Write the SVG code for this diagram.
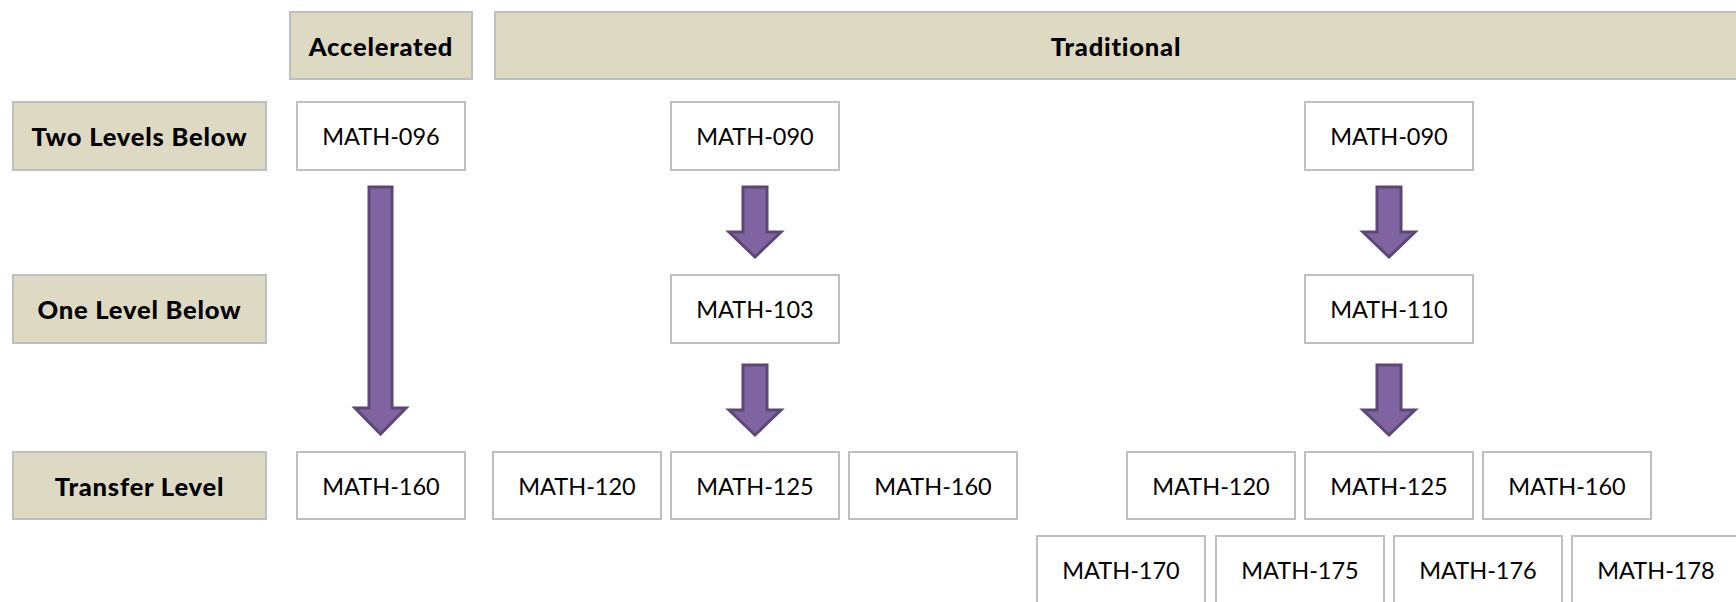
<svg xmlns="http://www.w3.org/2000/svg" width="1736" height="602" viewBox="0 0 1736 602">
<style>
.hdr{fill:#DDD9C3;stroke:#BFBFBF;stroke-width:2}
.box{fill:#FFFFFF;stroke:#BFBFBF;stroke-width:2}
.ht{font-family:Lato,"Liberation Sans",sans-serif;font-weight:900;font-size:25.5px;letter-spacing:0.8px;fill:#000;text-anchor:middle;dominant-baseline:central}
.bt{font-family:Lato,"Liberation Sans",sans-serif;font-size:23.5px;fill:#000;text-anchor:middle;dominant-baseline:central}
.arr{fill:#8064A2;stroke:#5C4776;stroke-width:3;stroke-linejoin:miter}
</style>
<rect width="1736" height="602" fill="#FFFFFF"/>
<g id="hdr-accelerated"><rect class="hdr" x="290" y="12" width="182" height="67"/><text class="ht" x="381" y="45.5">Accelerated</text></g>
<g id="hdr-traditional"><rect class="hdr" x="495" y="12" width="1245" height="67"/><text class="ht" x="1116" y="45.5">Traditional</text></g>
<g id="lbl-two"><rect class="hdr" x="13" y="102" width="253" height="68"/><text class="ht" x="139.5" y="136">Two Levels Below</text></g>
<g id="lbl-one"><rect class="hdr" x="13" y="275" width="253" height="68"/><text class="ht" x="139.5" y="309">One Level Below</text></g>
<g id="lbl-transfer"><rect class="hdr" x="13" y="452" width="253" height="67"/><text class="ht" x="139.5" y="485.5">Transfer Level</text></g>

<g id="acc-096"><rect class="box" x="297" y="102" width="168" height="68"/><text class="bt" x="381" y="136">MATH-096</text></g>
<g id="acc-160"><rect class="box" x="297" y="452" width="168" height="67"/><text class="bt" x="381" y="485.5">MATH-160</text></g>

<g id="t1-090"><rect class="box" x="671" y="102" width="168" height="68"/><text class="bt" x="755" y="136">MATH-090</text></g>
<g id="t1-103"><rect class="box" x="671" y="275" width="168" height="68"/><text class="bt" x="755" y="309">MATH-103</text></g>
<g id="t1-120"><rect class="box" x="493" y="452" width="168" height="67"/><text class="bt" x="577" y="485.5">MATH-120</text></g>
<g id="t1-125"><rect class="box" x="671" y="452" width="168" height="67"/><text class="bt" x="755" y="485.5">MATH-125</text></g>
<g id="t1-160"><rect class="box" x="849" y="452" width="168" height="67"/><text class="bt" x="933" y="485.5">MATH-160</text></g>

<g id="t2-090"><rect class="box" x="1305" y="102" width="168" height="68"/><text class="bt" x="1389" y="136">MATH-090</text></g>
<g id="t2-110"><rect class="box" x="1305" y="275" width="168" height="68"/><text class="bt" x="1389" y="309">MATH-110</text></g>
<g id="t2-120"><rect class="box" x="1127" y="452" width="168" height="67"/><text class="bt" x="1211" y="485.5">MATH-120</text></g>
<g id="t2-125"><rect class="box" x="1305" y="452" width="168" height="67"/><text class="bt" x="1389" y="485.5">MATH-125</text></g>
<g id="t2-160"><rect class="box" x="1483" y="452" width="168" height="67"/><text class="bt" x="1567" y="485.5">MATH-160</text></g>
<g id="t2-170"><rect class="box" x="1037" y="536" width="168" height="67"/><text class="bt" x="1121" y="569.5">MATH-170</text></g>
<g id="t2-175"><rect class="box" x="1216" y="536" width="168" height="67"/><text class="bt" x="1300" y="569.5">MATH-175</text></g>
<g id="t2-176"><rect class="box" x="1394" y="536" width="168" height="67"/><text class="bt" x="1478" y="569.5">MATH-176</text></g>
<g id="t2-178"><rect class="box" x="1572" y="536" width="168" height="67"/><text class="bt" x="1656" y="569.5">MATH-178</text></g>

<g id="connectors">
<path class="arr" d="M369,187 H392 V408 H406 L380.5,434 L355,408 H369 Z"/>
<path class="arr" d="M743,187 H767 V232 H781 L755,257 L729,232 H743 Z"/>
<path class="arr" d="M743,365 H767 V410 H781 L755,435 L729,410 H743 Z"/>
<path class="arr" d="M1377,187 H1401 V232 H1415 L1389,257 L1363,232 H1377 Z"/>
<path class="arr" d="M1377,365 H1401 V410 H1415 L1389,435 L1363,410 H1377 Z"/>
</g>
</svg>
